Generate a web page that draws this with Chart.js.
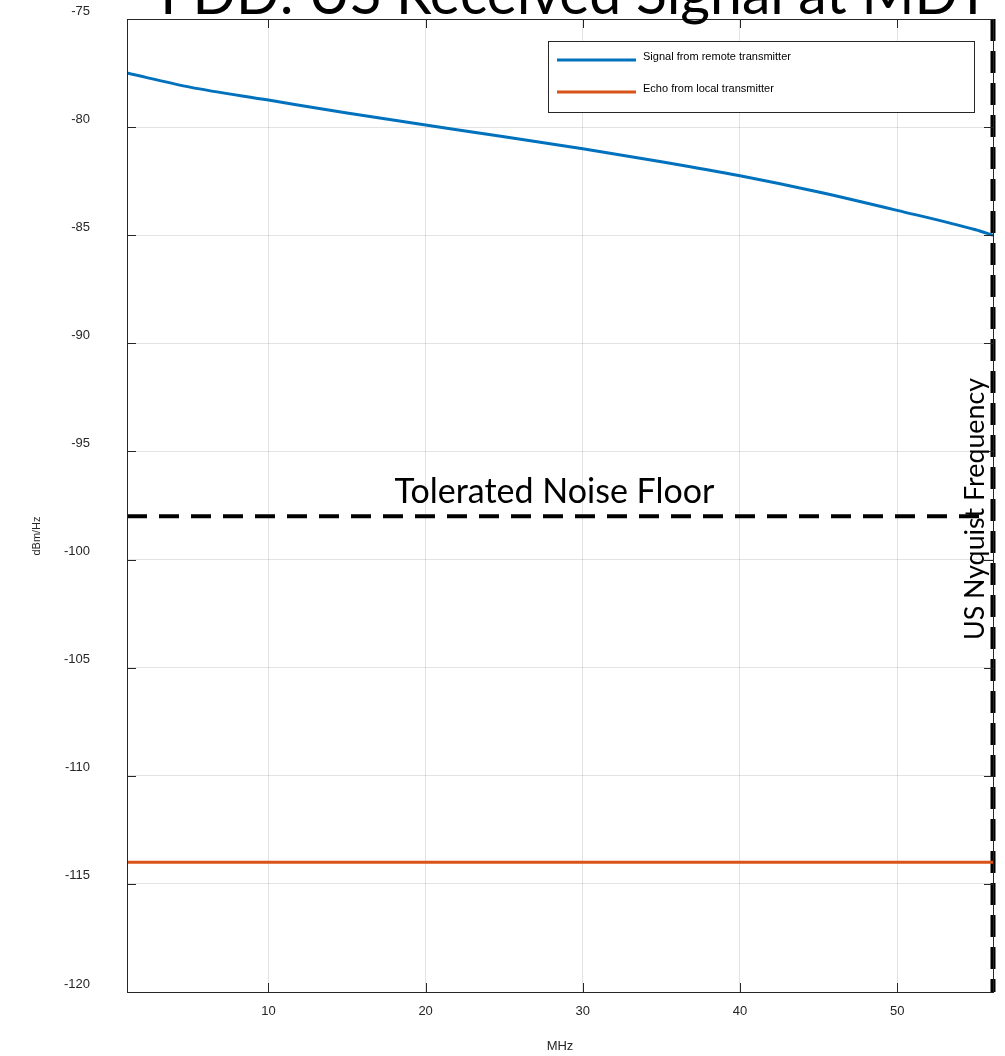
<!DOCTYPE html>
<html>
<head>
<meta charset="utf-8">
<script src="https://cdn.jsdelivr.net/npm/chart.js@4/dist/chart.umd.min.js"></script>
<style>
  body { margin: 0; background: #fff; }
</style>
</head>
<body>
<canvas id="psdChart" width="1005" height="1056"></canvas>
<script>
// DATA
var freqMHz = [1, 5, 10, 15, 20, 25, 30, 35, 40, 45, 50, 55, 56.1];
var remoteSignal = [-77.5, -78.15, -78.75, -79.35, -79.9, -80.45, -81.0, -81.6, -82.25, -83.0, -83.85, -84.75, -85.0];
var localEcho = [-114, -114, -114, -114, -114, -114, -114, -114, -114, -114, -114, -114, -114];
var noiseFloor = -98;
var nyquistMHz = 56.1;
var xTicks = [10, 20, 30, 40, 50];
var yTicks = [-75, -80, -85, -90, -95, -100, -105, -110, -115, -120];

const toPoints = (ys) => freqMHz.map((f, i) => ({x: f, y: ys[i]}));

// pick a font size so the text spans roughly the width seen in the picture
function fitFont(ctx, text, width, family) {
  ctx.font = "100px " + family;
  const size = 100 * width / ctx.measureText(text).width;
  ctx.font = size.toFixed(1) + "px " + family;
}

// titles, annotations and the boxed legend
var extras = {
  id: "extras",
  afterDraw(chart) {
    const ctx = chart.ctx;
    const area = chart.chartArea;
    const xs = chart.scales.x, ys = chart.scales.y;
    ctx.save();

    // plot box + inward tick marks
    ctx.strokeStyle = "#262626";
    ctx.lineWidth = 1;
    ctx.strokeRect(area.left + 0.5, area.top + 0.5, area.right - area.left, area.bottom - area.top);
    ctx.beginPath();
    xTicks.forEach(v => {
      const px = Math.round(xs.getPixelForValue(v)) + 0.5;
      ctx.moveTo(px, area.top); ctx.lineTo(px, area.top + 9);
      ctx.moveTo(px, area.bottom); ctx.lineTo(px, area.bottom - 9);
    });
    yTicks.forEach(v => {
      const py = Math.round(ys.getPixelForValue(v)) + 0.5;
      ctx.moveTo(area.left, py); ctx.lineTo(area.left + 9, py);
      ctx.moveTo(area.right, py); ctx.lineTo(area.right - 9, py);
    });
    ctx.stroke();

    // title (cut off at the top in the original)
    ctx.fillStyle = "#000";
    fitFont(ctx, "FDD: US Received Signal at MDT", 830, "Lato");
    ctx.textAlign = "center";
    ctx.textBaseline = "alphabetic";
    ctx.fillText("FDD: US Received Signal at MDT", 575, 14);

    // y axis title
    ctx.save();
    ctx.translate(37, 536);
    ctx.rotate(-Math.PI / 2);
    ctx.font = "11px 'Liberation Sans'";
    ctx.fillStyle = "#262626";
    ctx.textBaseline = "middle";
    ctx.fillText("dBm/Hz", 0, 0);
    ctx.restore();

    // annotations
    ctx.fillStyle = "#000";
    fitFont(ctx, "Tolerated Noise Floor", 320, "Lato");
    ctx.textAlign = "center";
    ctx.fillText("Tolerated Noise Floor", xs.getPixelForValue(28.2), ys.getPixelForValue(noiseFloor) - 13);

    ctx.save();
    ctx.translate(xs.getPixelForValue(nyquistMHz) - 9, 509);
    ctx.rotate(-Math.PI / 2);
    fitFont(ctx, "US Nyquist Frequency", 262, "Lato");
    ctx.fillText("US Nyquist Frequency", 0, 0);
    ctx.restore();

    // legend
    const bx = 548, by = 41, bw = 426, bh = 71;
    ctx.fillStyle = "#fff";
    ctx.fillRect(bx, by, bw, bh);
    ctx.strokeStyle = "#262626";
    ctx.lineWidth = 1;
    ctx.strokeRect(bx + 0.5, by + 0.5, bw, bh);
    ctx.font = "11px 'Liberation Sans'";
    ctx.textAlign = "left";
    ctx.textBaseline = "middle";
    chart.data.datasets.slice(0, 2).forEach((ds, i) => {
      const y = 60 + i * 32;
      ctx.strokeStyle = ds.borderColor;
      ctx.lineWidth = 3;
      ctx.beginPath();
      ctx.moveTo(557, y);
      ctx.lineTo(636, y);
      ctx.stroke();
      ctx.fillStyle = "#000";
      ctx.fillText(ds.label, 643, y - 3);
    });
    ctx.restore();
  }
};

new Chart("psdChart", {
  type: "line",
  data: {
    datasets: [{
      label: "Signal from remote transmitter",
      data: toPoints(remoteSignal),
      borderColor: "#0072BD",
      borderWidth: 3,
      pointRadius: 0,
      cubicInterpolationMode: "monotone"
    },
    {
      label: "Echo from local transmitter",
      data: toPoints(localEcho),
      borderColor: "#D95319",
      borderWidth: 3,
      pointRadius: 0
    },
    {
      label: "Tolerated Noise Floor",
      data: [{x: freqMHz[0], y: noiseFloor}, {x: nyquistMHz, y: noiseFloor}],
      borderColor: "#000",
      borderWidth: 4,
      borderDash: [20, 12],
      pointRadius: 0
    },
    {
      label: "US Nyquist Frequency",
      data: [{x: nyquistMHz, y: yTicks[0]}, {x: nyquistMHz, y: yTicks[yTicks.length - 1]}],
      borderColor: "#000",
      borderWidth: 5,
      borderDash: [22, 10],
      pointRadius: 0,
      clip: false
    }]
  },
  options: {
    responsive: false,
    animation: false,
    layout: {padding: {top: 19, right: 12, left: 0, bottom: 0}},
    plugins: {
      legend: {display: false},
      tooltip: {enabled: false}
    },
    scales: {
      x: {
        type: "linear",
        min: freqMHz[0],
        max: nyquistMHz,
        afterBuildTicks: (s) => { s.ticks = xTicks.map(v => ({value: v})); },
        afterFit: (s) => { s.height = 64; s.paddingLeft = 0; s.paddingRight = 0; },
        grid: {color: "rgba(38,38,38,0.13)", drawTicks: false},
        border: {color: "#262626"},
        ticks: {padding: 12, color: "#262626", font: {family: "Liberation Sans", size: 13}},
        title: {display: true, text: "MHz", color: "#262626", padding: {top: 0, bottom: 2},
                font: {family: "Liberation Sans", size: 13}}
      },
      y: {
        min: -120,
        max: -75,
        afterBuildTicks: (s) => { s.ticks = yTicks.map(v => ({value: v})); },
        afterFit: (s) => { s.width = 127; s.paddingTop = 0; s.paddingBottom = 0; },
        grid: {color: "rgba(38,38,38,0.13)", drawTicks: false},
        border: {color: "#262626"},
        ticks: {padding: 37, labelOffset: -8, color: "#262626", font: {family: "Liberation Sans", size: 13}}
      }
    }
  },
  plugins: [extras]
});
</script>
</body>
</html>
